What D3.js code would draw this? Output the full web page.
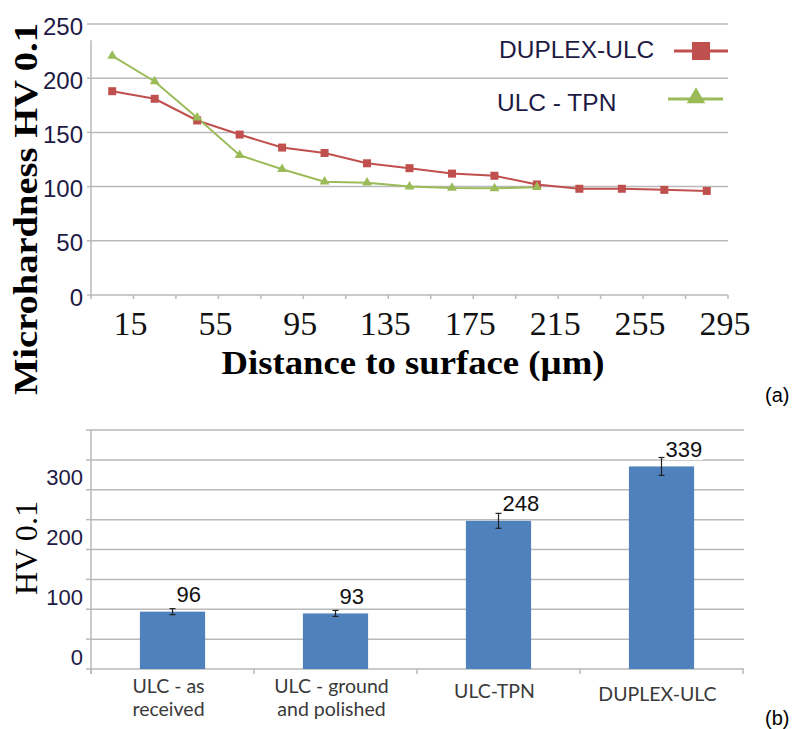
<!DOCTYPE html>
<html><head><meta charset="utf-8">
<script src="https://cdn.jsdelivr.net/npm/d3@7"></script>
<style>html,body{margin:0;padding:0;background:#fff;}svg{display:block;}</style>
</head><body>
<svg id="c" width="794" height="729"></svg>
<script>
// ---- Data (a) ----
const distances = [15,35,55,75,95,115,135,155,175,195,215,235,255,275,295];
const xTickLabels = [15,55,95,135,175,215,255,295];
const yTicksA = [0,50,100,150,200,250];
const duplexULC = [188,181,161,148,136,131,121.5,117,112,110,102,98,98,97,96];
const ulcTPN = [220.5,197,163.5,129,116,104.5,103.6,100,98.7,98.4,99.4];
const seriesNames = ["DUPLEX-ULC","ULC - TPN"];

// ---- Data (b) ----
const barCategories = [["ULC - as","received"],["ULC - ground","and polished"],["ULC-TPN"],["DUPLEX-ULC"]];
const barValues = [96,93,248,339];
const barErrors = [5,5,12.5,15];
const yTickLabelsB = [0,100,200,300];
const yGridB = [0,50,100,150,200,250,300,350,400];

const svg = d3.select("#c");
const red = "#C0504D", green = "#9BBB59", blue = "#4F81BD";
const grid = "#b9b9b9", tickCol = "#1e1a45";

// ================= Chart (a) =================
const xA = d3.scaleBand().domain(distances).range([91,728]).padding(0);
const yA = d3.scaleLinear().domain([0,250]).range([295,24]);
const cx = d => xA(d) + xA.bandwidth()/2;

const gA = svg.append("g");
gA.selectAll("line.grid").data(yTicksA.filter(v=>v>0)).join("line")
  .attr("x1",91).attr("x2",728).attr("y1",d=>yA(d)).attr("y2",d=>yA(d))
  .attr("stroke",grid).attr("stroke-width",1.5);
gA.append("line").attr("x1",91).attr("x2",91).attr("y1",yA(235)).attr("y2",yA(0)).attr("stroke",grid).attr("stroke-width",1.5);
gA.append("line").attr("x1",91).attr("x2",728).attr("y1",yA(0)).attr("y2",yA(0)).attr("stroke",grid).attr("stroke-width",1.5);
gA.selectAll("line.yt").data(yTicksA).join("line")
  .attr("x1",87).attr("x2",91).attr("y1",d=>yA(d)).attr("y2",d=>yA(d)).attr("stroke",grid).attr("stroke-width",1.5);
const bounds = distances.map(d=>xA(d)).concat([xA(distances[distances.length-1])+xA.bandwidth()]);
gA.selectAll("line.xt").data(bounds).join("line")
  .attr("x1",d=>d).attr("x2",d=>d).attr("y1",yA(0)).attr("y2",yA(0)+4).attr("stroke",grid).attr("stroke-width",1.5);

gA.selectAll("text.yl").data(yTicksA).join("text")
  .attr("x",83).attr("y",d=>yA(d)+2).attr("text-anchor","end").attr("dominant-baseline","central")
  .attr("font-family","Liberation Sans, Arial, sans-serif").attr("font-size",24).attr("fill",tickCol)
  .text(d=>d);
gA.selectAll("text.xl").data(xTickLabels).join("text")
  .attr("x",d=>xA(d)+xA.bandwidth()-3).attr("y",323).attr("text-anchor","middle").attr("dominant-baseline","central")
  .attr("font-family","Liberation Serif, Times New Roman, serif").attr("font-size",34).attr("fill","#111")
  .text(d=>d);
gA.append("text").attr("x",413).attr("y",374).attr("text-anchor","middle")
  .attr("font-family","Liberation Serif, Times New Roman, serif").attr("font-weight","bold").attr("font-size",33)
  .attr("textLength",383).attr("lengthAdjust","spacingAndGlyphs").attr("fill","#000")
  .text("Distance to surface (µm)");
gA.append("text").attr("transform","translate(37,209) rotate(-90)").attr("text-anchor","middle")
  .attr("font-family","Liberation Serif, Times New Roman, serif").attr("font-weight","bold").attr("font-size",34)
  .attr("textLength",372).attr("lengthAdjust","spacingAndGlyphs").attr("fill","#000")
  .text("Microhardness  HV 0.1");

const lineGen = d3.line().x(d=>cx(d[0])).y(d=>yA(d[1]));
const dupPts = duplexULC.map((v,i)=>[distances[i],v]);
const tpnPts = ulcTPN.map((v,i)=>[distances[i],v]);
gA.append("path").attr("d",lineGen(dupPts)).attr("fill","none").attr("stroke",red).attr("stroke-width",2);
gA.append("path").attr("d",lineGen(tpnPts)).attr("fill","none").attr("stroke",green).attr("stroke-width",2);
gA.selectAll("rect.m").data(dupPts).join("rect")
  .attr("x",d=>cx(d[0])-4).attr("y",d=>yA(d[1])-4).attr("width",8).attr("height",8).attr("fill",red);
const tri = d3.symbol().type(d3.symbolTriangle).size(42);
gA.selectAll("path.t").data(tpnPts).join("path")
  .attr("d",tri).attr("transform",d=>`translate(${cx(d[0])},${yA(d[1])})`).attr("fill",green);

gA.append("text").attr("x",499).attr("y",49).attr("dominant-baseline","central")
  .attr("font-family","Liberation Sans, Arial, sans-serif").attr("font-size",24.5).attr("fill",tickCol).text(seriesNames[0]);
gA.append("text").attr("x",497).attr("y",102).attr("dominant-baseline","central")
  .attr("font-family","Liberation Sans, Arial, sans-serif").attr("font-size",24.5).attr("fill",tickCol).text(seriesNames[1]);
gA.append("line").attr("x1",674).attr("x2",728).attr("y1",51).attr("y2",51).attr("stroke",red).attr("stroke-width",3);
gA.append("rect").attr("x",692).attr("y",42).attr("width",18).attr("height",18).attr("fill",red);
gA.append("line").attr("x1",668).attr("x2",723).attr("y1",99).attr("y2",99).attr("stroke",green).attr("stroke-width",3);
gA.append("path").attr("d",d3.symbol().type(d3.symbolTriangle).size(150)).attr("transform","translate(696,98)").attr("fill",green);

svg.append("text").attr("x",765).attr("y",395).attr("dominant-baseline","central")
  .attr("font-family","Liberation Sans, Arial, sans-serif").attr("font-size",20).attr("fill","#000").text("(a)");

// ================= Chart (b) =================
const xB = d3.scaleBand().domain(d3.range(barCategories.length)).range([91,743]).padding(0);
const yB = d3.scaleLinear().domain([0,400]).range([669,430]);
const gB = svg.append("g");
gB.selectAll("line.g").data(yGridB.filter(v=>v>0)).join("line")
  .attr("x1",91).attr("x2",744).attr("y1",d=>yB(d)).attr("y2",d=>yB(d)).attr("stroke",grid).attr("stroke-width",1.5);
gB.append("line").attr("x1",91).attr("x2",91).attr("y1",yB(400)).attr("y2",yB(0)+5).attr("stroke",grid).attr("stroke-width",1.5);
gB.append("line").attr("x1",91).attr("x2",744).attr("y1",yB(0)).attr("y2",yB(0)).attr("stroke",grid).attr("stroke-width",1.5);
gB.selectAll("line.yt").data(yGridB).join("line")
  .attr("x1",86).attr("x2",91).attr("y1",d=>yB(d)).attr("y2",d=>yB(d)).attr("stroke",grid).attr("stroke-width",1.5);
const bB = d3.range(barCategories.length+1).map(i=>91+i*xB.step());
gB.selectAll("line.xt").data(bB).join("line")
  .attr("x1",d=>d).attr("x2",d=>d).attr("y1",yB(0)).attr("y2",yB(0)+5).attr("stroke",grid).attr("stroke-width",1.5);

gB.selectAll("text.yl").data(yTickLabelsB).join("text")
  .attr("x",83).attr("y",d=>yB(d)-12).attr("text-anchor","end").attr("dominant-baseline","central")
  .attr("font-family","Liberation Sans, Arial, sans-serif").attr("font-size",22).attr("fill",tickCol).text(d=>d);

gB.append("text").attr("transform","translate(37,548) rotate(-90)").attr("text-anchor","middle")
  .attr("font-family","Liberation Serif, Times New Roman, serif").attr("font-size",32)
  .attr("textLength",94).attr("lengthAdjust","spacingAndGlyphs").attr("fill","#000").text("HV 0.1");

const bw = xB.bandwidth()*0.4;
const bcx = i => xB(i)+xB.bandwidth()/2;
gB.selectAll("rect.b").data(barValues).join("rect")
  .attr("x",(d,i)=>bcx(i)-bw/2).attr("y",d=>yB(d)).attr("width",bw).attr("height",d=>yB(0)-yB(d)).attr("fill",blue);
barValues.forEach((v,i)=>{
  const e = barErrors[i], x = bcx(i);
  gB.append("line").attr("x1",x).attr("x2",x).attr("y1",yB(v+e)).attr("y2",yB(v-e)).attr("stroke","#222").attr("stroke-width",1.2);
  [v+e,v-e].forEach(t=>gB.append("line").attr("x1",x-3).attr("x2",x+3).attr("y1",yB(t)).attr("y2",yB(t)).attr("stroke","#222").attr("stroke-width",1.2));
});
barValues.forEach((v,i)=>{
  const t = gB.append("text").attr("x",bcx(i)+4).attr("y",yB(v)-17).attr("dominant-baseline","central")
    .attr("font-family","Liberation Sans, Arial, sans-serif").attr("font-size",22).attr("fill","#111").text(v);
  const bb = t.node().getBBox();
  gB.insert("rect","text").attr("x",bb.x-1).attr("y",bb.y+2).attr("width",bb.width+2).attr("height",bb.height-4).attr("fill","#fff");
});
barCategories.forEach((lines,i)=>{
  const y0 = lines.length>1 ? 685 : 690 + (i===3?3:0);
  lines.forEach((s,j)=>{
    gB.append("text").attr("x",bcx(i)-4).attr("y",y0+j*23).attr("text-anchor","middle").attr("dominant-baseline","central")
      .attr("font-family","Lato, Open Sans, sans-serif").attr("font-size",19.5).attr("fill","#3a3a3a").text(s);
  });
});

svg.append("text").attr("x",765).attr("y",718).attr("dominant-baseline","central")
  .attr("font-family","Liberation Sans, Arial, sans-serif").attr("font-size",20).attr("fill","#000").text("(b)");
</script>
</body></html>
